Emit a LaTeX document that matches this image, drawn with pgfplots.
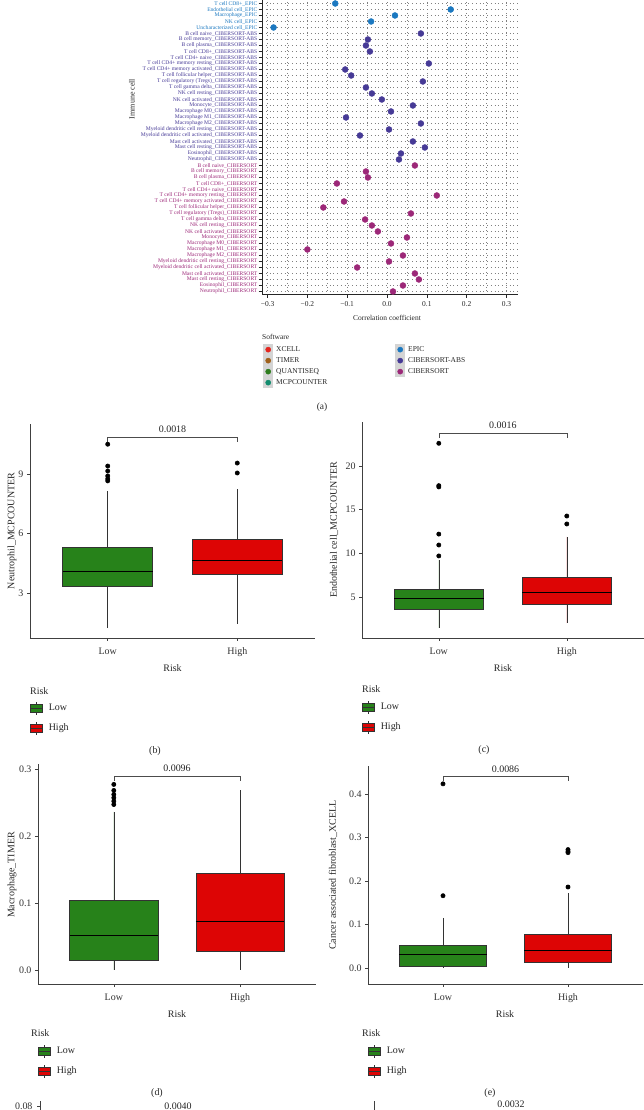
\documentclass[border=0pt]{standalone}
\usepackage{fontspec}
\setmainfont{Liberation Serif}
\usepackage{pgfplots}
\pgfplotsset{compat=1.18}
\usepgfplotslibrary{statistics}
\definecolor{cxcell}{HTML}{E4261F}
\definecolor{ctimer}{HTML}{A0601A}
\definecolor{cquan}{HTML}{2E7D1E}
\definecolor{cmcp}{HTML}{128C6E}
\definecolor{cepic}{HTML}{1B78C0}
\definecolor{cabs}{HTML}{463A96}
\definecolor{ccib}{HTML}{9C2878}
\definecolor{lowg}{HTML}{27821A}
\definecolor{highr}{HTML}{DD0505}
\newcommand{\LC}[1]{\textcolor{ccib}{#1\_CIBERSORT}}
\newcommand{\LA}[1]{\textcolor{cabs}{#1\_CIBERSORT-ABS}}
\newcommand{\LE}[1]{\textcolor{cepic}{#1\_EPIC}}
\pgfplotsset{
  swkey/.style={legend image code/.code={\fill[black!17,draw=none] (0bp,-5.5bp) rectangle (10bp,5.5bp);
      \draw[mark repeat=2,mark phase=2,mark size=2.6bp,##1] plot coordinates {(1bp,0bp)(5bp,0bp)(9bp,0bp)};}},
  boxax/.style={scale only axis, axis lines=left,
    axis line style={-, draw=black!75, line width=0.7bp},
    tick style={draw=black!75, line width=0.6bp}, tick align=outside, major tick length=3bp,
    xmin=0.4, xmax=2.6, xtick={1,2}, xticklabels={Low,High},
    ticklabel style={font=\fontsize{10}{12}\selectfont, text=black!80},
    xticklabel style={yshift=-3bp},
    clip=false, legend cell align=left,
    legend style={draw=none, fill=none, inner sep=0pt, row sep=0pt, anchor=north west,
      font=\fontsize{10}{12}\selectfont, nodes={inner xsep=6bp, inner ysep=0pt, text=black!85}}},
  bx/.style={draw=black!80, line width=0.6bp, mark=*, mark size=2.1bp,
    mark options={fill=black, draw=black, solid},
    boxplot/every median/.style={draw=black, line width=1bp}},
  brk/.style={forget plot, draw=black!70, line width=0.6bp, mark=none},
  lowkey/.style={legend image code/.code={\path[draw=none,fill=none] (0bp,-10bp) rectangle (12bp,10bp);
      \draw[black!80,line width=0.5bp] (6bp,-6.5bp)--(6bp,6.5bp);
      \filldraw[fill=lowg,draw=black!80,line width=0.5bp] (0bp,-4bp) rectangle (12bp,4bp);
      \draw[black!80,line width=0.6bp] (0bp,0bp)--(12bp,0bp);}},
  highkey/.style={legend image code/.code={\path[draw=none,fill=none] (0bp,-10bp) rectangle (12bp,10bp);
      \draw[black!80,line width=0.5bp] (6bp,-6.5bp)--(6bp,6.5bp);
      \filldraw[fill=highr,draw=black!80,line width=0.5bp] (0bp,-4bp) rectangle (12bp,4bp);
      \draw[black!80,line width=0.6bp] (0bp,0bp)--(12bp,0bp);}},
}
\tikzset{lab/.style={font=\fontsize{10}{12}\selectfont, text=black!85}}
\begin{document}
\begin{tikzpicture}
\useasboundingbox (0bp,0bp) rectangle (644bp,1110bp);

% ---------------- panel (a)
\begin{axis}[at={(262bp,815.5bp)}, anchor=south west, scale only axis,
  width=256bp, height=315bp,
  xmin=-0.314, xmax=0.329, ymin=0.5, ymax=53,
  axis lines=left, axis line style={-, draw=black!85, line width=0.6bp},
  tick align=outside, major tick length=3.5bp, minor tick length=0pt,
  tick style={draw=black!85, line width=0.5bp},
  xtick={-0.3,-0.2,-0.1,0,0.1,0.2,0.3},
  xticklabels={−0.3,−0.2,−0.1,0.0,0.1,0.2,0.3},
  minor xtick={-0.25,-0.15,-0.05,0.05,0.15,0.25},
  ytick={1,...,49},
  yticklabels={\LC{Neutrophil},\LC{Eosinophil},\LC{Mast cell resting},\LC{Mast cell activated},
    \LC{Myeloid dendritic cell activated},\LC{Myeloid dendritic cell resting},\LC{Macrophage M2},
    \LC{Macrophage M1},\LC{Macrophage M0},\LC{Monocyte},\LC{NK cell activated},\LC{NK cell resting},
    \LC{T cell gamma delta},\LC{T cell regulatory (Tregs)},\LC{T cell follicular helper},
    \LC{T cell CD4+ memory activated},\LC{T cell CD4+ memory resting},\LC{T cell CD4+ naive},
    \LC{T cell CD8+},\LC{B cell plasma},\LC{B cell memory},\LC{B cell naive},
    \LA{Neutrophil},\LA{Eosinophil},\LA{Mast cell resting},\LA{Mast cell activated},
    \LA{Myeloid dendritic cell activated},\LA{Myeloid dendritic cell resting},\LA{Macrophage M2},
    \LA{Macrophage M1},\LA{Macrophage M0},\LA{Monocyte},\LA{NK cell activated},\LA{NK cell resting},
    \LA{T cell gamma delta},\LA{T cell regulatory (Tregs)},\LA{T cell follicular helper},
    \LA{T cell CD4+ memory activated},\LA{T cell CD4+ memory resting},\LA{T cell CD4+ naive},
    \LA{T cell CD8+},\LA{B cell plasma},\LA{B cell memory},\LA{B cell naive},
    \LE{Uncharacterized cell},\LE{NK cell},\LE{Macrophage},\LE{Endothelial cell},\LE{T cell CD8+}},
  xmajorgrids, xminorgrids, ymajorgrids,
  major grid style={draw=black!50, line width=0.45bp, dash pattern=on 0.45bp off 3.3bp},
  minor grid style={draw=black!50, line width=0.45bp, dash pattern=on 0.45bp off 3.3bp},
  yticklabel style={font=\fontsize{5.6}{6}\selectfont, inner xsep=1bp},
  xticklabel style={font=\fontsize{7.5}{8}\selectfont, text=black!85},
  legend columns=4, transpose legend, legend cell align=left,
  legend style={at={(axis description cs:0.004,-0.157)}, anchor=north west, draw=none, fill=none,
    inner sep=0pt, row sep=0pt, column sep=0pt, font=\fontsize{7.5}{8}\selectfont,
    nodes={inner xsep=3bp, inner ysep=0pt, text=black!85}},
]
\addlegendimage{only marks, mark=*, color=cxcell, swkey}
\addlegendentry{\makebox[116bp][l]{XCELL}}
\addlegendimage{only marks, mark=*, color=ctimer, swkey}
\addlegendentry{\makebox[116bp][l]{TIMER}}
\addlegendimage{only marks, mark=*, color=cquan, swkey}
\addlegendentry{\makebox[116bp][l]{QUANTISEQ}}
\addlegendimage{only marks, mark=*, color=cmcp, swkey}
\addlegendentry{\makebox[116bp][l]{MCPCOUNTER}}
\addplot[only marks, mark=*, mark size=3bp, color=cepic, swkey] coordinates {
 (-0.285,45) (-0.04,46) (0.02,47) (0.16,48) (-0.13,49)};
\addlegendentry{EPIC}
\addplot[only marks, mark=*, mark size=3bp, color=cabs, swkey] coordinates {
 (0.03,23) (0.035,24) (0.095,25) (0.065,26) (-0.068,27) (0.005,28) (0.085,29) (-0.103,30)
 (0.01,31) (0.065,32) (-0.013,33) (-0.038,34) (-0.053,35) (0.09,36) (-0.09,37) (-0.105,38)
 (0.105,39) (-0.043,41) (-0.053,42) (-0.048,43) (0.085,44)};
\addlegendentry{CIBERSORT-ABS}
\addplot[only marks, mark=*, mark size=3bp, color=ccib, swkey] coordinates {
 (0.015,1) (0.04,2) (0.08,3) (0.07,4) (-0.075,5) (0.005,6) (0.04,7) (-0.2,8) (0.01,9)
 (0.05,10) (-0.023,11) (-0.038,12) (-0.055,13) (0.06,14) (-0.16,15) (-0.108,16) (0.125,17)
 (-0.126,19) (-0.048,20) (-0.053,21) (0.07,22)};
\addlegendentry{CIBERSORT}
\end{axis}
\node[rotate=90, font=\fontsize{8}{9}\selectfont, text=black!85] at (132bp,1011bp) {Immune cell};
\node[font=\fontsize{7.5}{8}\selectfont, text=black!85] at (387bp,792bp) {Correlation coefficient};
\node[anchor=west, inner sep=0pt, font=\fontsize{7.5}{8}\selectfont, text=black!85] at (262bp,773bp) {Software};
\node[font=\fontsize{9.5}{11}\selectfont, text=black!85] at (322bp,703bp) {(a)};

% ---------------- panel (b)
\begin{axis}[boxax, at={(30bp,472bp)}, anchor=south west, width=285bp, height=214bp,
  ymin=0.73, ymax=11.52, ytick={3,6,9}, yticklabels={3,6,9},
  legend style={at={(axis description cs:0,-0.2804)}}]
\addplot[forget plot, bx, fill=lowg, boxplot prepared={draw direction=y, draw position=1, lower whisker=1.23,
  lower quartile=3.35, median=4.1, upper quartile=5.3, upper whisker=8.14,
  box extend=0.695, whisker extend=0}]
  table[row sep=\\, y index=0] {y\\ 8.65\\ 8.75\\ 8.9\\ 9.15\\ 9.4\\ 10.5\\};
\addplot[forget plot, bx, fill=highr, boxplot prepared={draw direction=y, draw position=2, lower whisker=1.44,
  lower quartile=3.95, median=4.66, upper quartile=5.73, upper whisker=8.24,
  box extend=0.695, whisker extend=0}]
  table[row sep=\\, y index=0] {y\\ 9.05\\ 9.55\\};
\addplot[brk] coordinates {(1,10.62) (1,10.87) (2,10.87) (2,10.62)};
\node[anchor=base, lab] at (axis cs:1.5,10.87) [yshift=4bp] {0.0018};
\addlegendimage{lowkey}\addlegendentry{Low}
\addlegendimage{highkey}\addlegendentry{High}
\end{axis}
\node[rotate=90, lab] at (12bp,579bp) {Neutrophil\_MCPCOUNTER};
\node[lab] at (172.5bp,442bp) {Risk};
\node[anchor=west, inner sep=0pt, lab] at (30bp,419bp) {Risk};
\node[lab] at (155bp,359bp) {(b)};

% ---------------- panel (c)
\begin{axis}[boxax, at={(362bp,472bp)}, anchor=south west, width=281.6bp, height=216bp,
  ymin=0.30, ymax=25.04, ytick={5,10,15,20}, yticklabels={5,10,15,20},
  legend style={at={(axis description cs:0,-0.273)}}]
\addplot[forget plot, bx, fill=lowg, boxplot prepared={draw direction=y, draw position=1, lower whisker=1.45,
  lower quartile=3.63, median=4.77, upper quartile=5.92, upper whisker=9.24,
  box extend=0.70, whisker extend=0}]
  table[row sep=\\, y index=0] {y\\ 9.7\\ 10.95\\ 12.2\\ 17.6\\ 17.75\\ 22.6\\};
\addplot[forget plot, bx, fill=highr, boxplot prepared={draw direction=y, draw position=2, lower whisker=2.0,
  lower quartile=4.2, median=5.46, upper quartile=7.3, upper whisker=11.87,
  box extend=0.70, whisker extend=0}]
  table[row sep=\\, y index=0] {y\\ 13.36\\ 14.27\\};
\addplot[brk] coordinates {(1,23.2) (1,23.78) (2,23.78) (2,23.2)};
\node[anchor=base, lab] at (axis cs:1.5,23.78) [yshift=4bp] {0.0016};
\addlegendimage{lowkey}\addlegendentry{Low}
\addlegendimage{highkey}\addlegendentry{High}
\end{axis}
\node[rotate=90, lab] at (334bp,580bp) {Endothelial cell\_MCPCOUNTER};
\node[lab] at (503bp,442bp) {Risk};
\node[anchor=west, inner sep=0pt, lab] at (362bp,421bp) {Risk};
\node[lab] at (484bp,360bp) {(c)};

% ---------------- panel (d)
\begin{axis}[boxax, at={(38bp,126bp)}, anchor=south west, width=278bp, height=220bp,
  ymin=-0.021, ymax=0.3075, ytick={0,0.1,0.2,0.3}, yticklabels={0.0,0.1,0.2,0.3},
  legend style={at={(axis description cs:0,-0.259)}}]
\addplot[forget plot, bx, fill=lowg, boxplot prepared={draw direction=y, draw position=1, lower whisker=0.0,
  lower quartile=0.015, median=0.052, upper quartile=0.1045, upper whisker=0.236,
  box extend=0.70, whisker extend=0}]
  table[row sep=\\, y index=0] {y\\ 0.247\\ 0.252\\ 0.257\\ 0.262\\ 0.268\\ 0.277\\};
\addplot[forget plot, bx, fill=highr, boxplot prepared={draw direction=y, draw position=2, lower whisker=0.0,
  lower quartile=0.028, median=0.072, upper quartile=0.145, upper whisker=0.268,
  box extend=0.70, whisker extend=0}] coordinates {};
\addplot[brk] coordinates {(1,0.2821) (1,0.2896) (2,0.2896) (2,0.2821)};
\node[anchor=base, lab] at (axis cs:1.5,0.2896) [yshift=4bp] {0.0096};
\addlegendimage{lowkey}\addlegendentry{Low}
\addlegendimage{highkey}\addlegendentry{High}
\end{axis}
\node[rotate=90, lab] at (12bp,235bp) {Macrophage\_TIMER};
\node[lab] at (177bp,96bp) {Risk};
\node[anchor=west, inner sep=0pt, lab] at (31bp,77bp) {Risk};
\node[lab] at (157bp,17bp) {(d)};

% ---------------- panel (e)
\begin{axis}[boxax, at={(368bp,126bp)}, anchor=south west, width=275bp, height=218bp,
  ymin=-0.0368, ymax=0.464, ytick={0,0.1,0.2,0.3,0.4}, yticklabels={0.0,0.1,0.2,0.3,0.4},
  legend style={at={(axis description cs:0,-0.261)}}]
\addplot[forget plot, bx, fill=lowg, boxplot prepared={draw direction=y, draw position=1, lower whisker=0.0,
  lower quartile=0.005, median=0.03, upper quartile=0.052, upper whisker=0.115,
  box extend=0.70, whisker extend=0}]
  table[row sep=\\, y index=0] {y\\ 0.166\\ 0.423\\};
\addplot[forget plot, bx, fill=highr, boxplot prepared={draw direction=y, draw position=2, lower whisker=0.0,
  lower quartile=0.012, median=0.04, upper quartile=0.077, upper whisker=0.172,
  box extend=0.70, whisker extend=0}]
  table[row sep=\\, y index=0] {y\\ 0.186\\ 0.265\\ 0.268\\ 0.272\\};
\addplot[brk] coordinates {(1,0.4295) (1,0.441) (2,0.441) (2,0.4295)};
\node[anchor=base, lab] at (axis cs:1.5,0.441) [yshift=4bp] {0.0086};
\addlegendimage{lowkey}\addlegendentry{Low}
\addlegendimage{highkey}\addlegendentry{High}
\end{axis}
\node[rotate=90, lab] at (333bp,235bp) {Cancer associated fibroblast\_XCELL};
\node[lab] at (505bp,96bp) {Risk};
\node[anchor=west, inner sep=0pt, lab] at (362bp,77bp) {Risk};
\node[lab] at (490bp,17bp) {(e)};

% ---------------- cropped panels at the bottom edge
\node[anchor=east, lab, text=black!80] at (36bp,4bp) {0.08};
\draw[black!75, line width=0.6bp] (37bp,4bp) -- (40bp,4bp) (40bp,-5bp) -- (40bp,9bp);
\node[lab] at (178bp,4bp) {0.0040};
\draw[black!75, line width=0.6bp] (374bp,-5bp) -- (374bp,9bp);
\node[lab] at (511bp,6bp) {0.0032};
\end{tikzpicture}
\end{document}
